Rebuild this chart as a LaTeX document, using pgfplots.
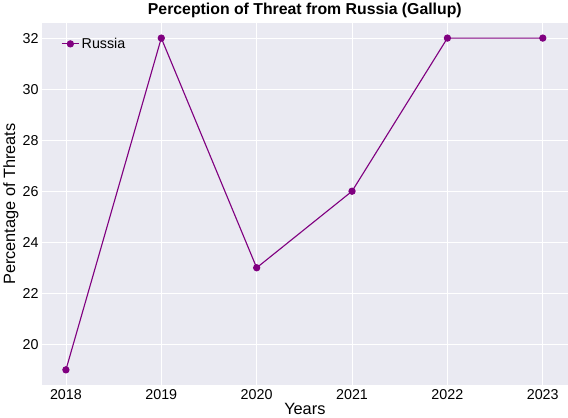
\documentclass[border=0pt]{standalone}
\usepackage{pgfplots}
\pgfplotsset{compat=1.18}
\usepackage{fontspec}
\setmainfont{Liberation Sans}
\definecolor{bgc}{HTML}{EAEAF2}
\begin{document}
\begin{tikzpicture}
\begin{axis}[
  width=513bp, height=354bp, scale only axis,
  xmin=2017.75, xmax=2023.26, ymin=18.39, ymax=32.6,
  axis background/.style={fill=bgc},
  axis line style={draw=none},
  grid=major, major grid style={white, line width=0.8pt},
  tick style={draw=none},
  xtick={2018,...,2023}, ytick={20,22,...,32},
  xticklabel style={/pgf/number format/1000 sep=},
  /pgf/number format/assume math mode=true,
  ticklabel style={font=\fontsize{14}{16}\selectfont},
  xlabel={Years}, ylabel={Percentage of Threats},
  label style={font=\fontsize{16}{18}\selectfont},
  xlabel style={yshift=3pt}, ylabel style={yshift=-3pt},
  title={\textbf{Perception of Threat from Russia (Gallup)}},
  title style={font=\fontsize{15.5}{18}\selectfont, yshift=-5pt},
  legend pos=north west,
  legend style={draw=none, fill=none, font=\fontsize{14}{16}\selectfont},
  legend cell align=left,
]
\addplot[color={rgb,255:red,128;green,0;blue,128}, line width=1.1pt, mark=*, mark size=3pt]
 coordinates {(2018,19) (2019,32) (2020,23) (2021,26) (2022,32) (2023,32)};
\addlegendentry{Russia}
\end{axis}
\end{tikzpicture}
\end{document}
